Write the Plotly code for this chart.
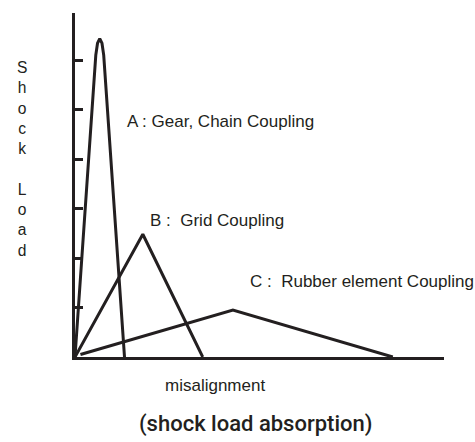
import plotly.graph_objects as go

# ---- data (misalignment units, shock-load units) ----
a_x = [0.0, 0.42, 0.455, 0.50, 0.545, 0.58, 1.00]
a_y = [0.0, 6.10, 6.34, 6.43, 6.34, 6.10, 0.0]
b_x = [0.0, 1.37, 2.58]
b_y = [0.0, 2.48, 0.0]
c_x = [0.11, 3.19, 6.42]
c_y = [0.05, 0.95, 0.0]
y_ticks = [1, 2, 3, 4, 5, 6]
label_a = "A : Gear, Chain Coupling"
label_b = "B :&nbsp; Grid Coupling"
label_c = "C :&nbsp; Rubber element Coupling"
y_title = "S<br>h<br>o<br>c<br>k<br> <br>L<br>o<br>a<br>d"
x_title = "misalignment"
caption = "(shock load absorption)"

W, H = 475, 442
L, R, T, B = 75, 31, 13, 85
PW, PH = W - L - R, H - T - B
UNIT = 49.5
INK = "#231f20"


def paper(px, py):
    return (px - L) / PW, (H - B - py) / PH


fig = go.Figure()
for xs, ys in [(a_x, a_y), (b_x, b_y), (c_x, c_y)]:
    fig.add_trace(go.Scatter(x=xs, y=ys, mode="lines",
                             line=dict(color=INK, width=3),
                             hoverinfo="skip", showlegend=False,
                             cliponaxis=False))

txt = dict(family="Liberation Sans, Arial, sans-serif", size=17, color=INK)
anns = []
for text, px, py in [(label_a, 125, 121), (label_b, 148, 220), (label_c, 248, 281)]:
    x, y = paper(px, py)
    anns.append(dict(text=text, x=x, y=y, xref="paper", yref="paper",
                     xanchor="left", yanchor="middle", showarrow=False, font=txt))
x, y = paper(22, 159)
anns.append(dict(text=y_title, x=x, y=y, xref="paper", yref="paper",
                 xanchor="center", yanchor="middle", showarrow=False,
                 font=dict(family="Liberation Sans, Arial, sans-serif", size=15.6, color=INK)))
x, y = paper(214.5, 385)
anns.append(dict(text=x_title, x=x, y=y, xref="paper", yref="paper",
                 xanchor="center", yanchor="middle", showarrow=False, font=txt))
x, y = paper(255.5, 424)
anns.append(dict(text=caption, x=x, y=y, xref="paper", yref="paper",
                 xanchor="center", yanchor="middle", showarrow=False,
                 font=dict(family="Roboto, sans-serif", size=22, color=INK, weight=500)))

fig.update_layout(
    width=W, height=H,
    margin=dict(l=L, r=R, t=T, b=B),
    paper_bgcolor="white", plot_bgcolor="white",
    annotations=anns,
    xaxis=dict(range=[0, PW / UNIT], showgrid=False, zeroline=False,
               showline=True, linecolor=INK, linewidth=3,
               showticklabels=False, ticks=""),
    yaxis=dict(range=[0, PH / UNIT], showgrid=False, zeroline=False,
               showline=True, linecolor=INK, linewidth=3,
               tickvals=y_ticks, ticks="inside", ticklen=8, tickwidth=3,
               tickcolor=INK, showticklabels=False),
)

fig.write_html("out.html", config={"displayModeBar": False},
               post_script="document.body.style.margin='0';document.body.style.overflow='hidden';")
